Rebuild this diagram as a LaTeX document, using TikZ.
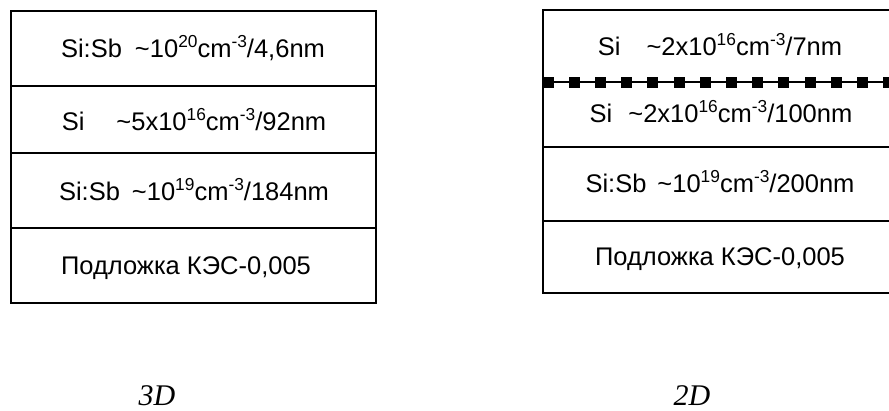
\documentclass[tikz,border=0pt]{standalone}
\usepackage{fontspec}
\setmainfont{Liberation Sans}
\newfontfamily\timesfont{Liberation Serif}
\newcommand{\sut}[1]{\raisebox{0.36em}{\scalebox{0.68}{#1}}}

\begin{document}
\begin{tikzpicture}[x=1pt, y=-1pt,
    layer/.style={draw, line width=1.3pt},
    lbl/.style={anchor=base, inner sep=0pt, font=\fontsize{25.5}{29}\selectfont},
    rlbl/.style={lbl, font=\fontsize{25.5}{29}\selectfont},
    caption/.style={anchor=base, inner sep=0pt, font=\fontsize{30}{34}\selectfont\timesfont\itshape},
    delta/.style={fill=black, minimum size=11pt, inner sep=0pt}
]
\useasboundingbox (0,0) rectangle (889,410);

% 3D structure
\draw[layer] (11,11) rectangle (376,303);
\draw[layer] (11,86) -- (376,86);
\draw[layer] (11,153) -- (376,153);
\draw[layer] (11,228) -- (376,228);
\node[lbl] (capA) at (193,57) {Si:Sb\hspace{13pt}\textasciitilde 10\sut{20}cm\sut{-3}/4,6nm};
\node[lbl] (spacerA) at (194,130) {Si\hspace{32pt}\textasciitilde 5x10\sut{16}cm\sut{-3}/92nm};
\node[lbl] (bufferA) at (194,200) {Si:Sb\hspace{12pt}\textasciitilde 10\sut{19}cm\sut{-3}/184nm};
\node[lbl] (substrA) at (186,274) {Подложка КЭС-0,005};

% 2D structure
\draw[layer] (895,10) -- (543,10) -- (543,293) -- (895,293);
\draw[layer] (543,147) -- (895,147);
\draw[layer] (543,221) -- (895,221);
\draw[line width=1.5pt] (543,82) -- (895,82);
\foreach \k in {0,...,13}
  \node[delta] (d\k) at (548+26.2*\k,82) {};
\node[rlbl] (capB) at (720,55) {Si\hspace{26pt}\textasciitilde 2x10\sut{16}cm\sut{-3}/7nm};
\node[rlbl] (spacerB) at (721,122) {Si\hspace{16pt}\textasciitilde 2x10\sut{16}cm\sut{-3}/100nm};
\node[rlbl] (bufferB) at (720,192) {Si:Sb\hspace{11pt}\textasciitilde 10\sut{19}cm\sut{-3}/200nm};
\node[rlbl] (substrB) at (720,265) {Подложка КЭС-0,005};

% captions
\node[caption] (lab3d) at (157,405) {3D};
\node[caption] (lab2d) at (692,405) {2D};
\end{tikzpicture}
\end{document}
